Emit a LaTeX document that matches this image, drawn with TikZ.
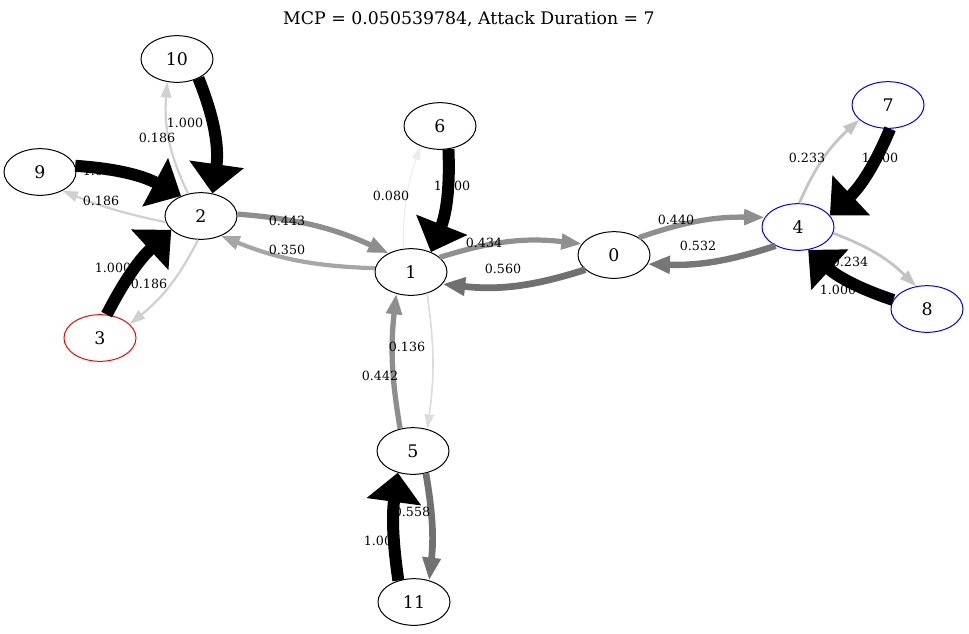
\documentclass[tikz,border=0pt]{standalone}
\usepackage{fontspec}
\setmainfont{DejaVu Serif}
\usetikzlibrary{arrows.meta,shapes}

\begin{document}
\begin{tikzpicture}[x=0.75pt,y=-0.75pt,
	state/.style={ellipse,draw,line width=0.75pt,fill=white,inner sep=0pt,minimum width=54pt,minimum height=35pt,font=\fontsize{13}{15}\selectfont},
	attacker/.style={state,draw=red},
	target/.style={state,draw=blue},
	prob/.style={inner sep=0pt,font=\fontsize{9.5}{10}\selectfont},
	trans/.style={draw=black!#1,line width=#1*0.09pt,-{Triangle[length=9pt 1.6,width=5pt 1.6]}},
	sure/.style={draw=black,line width=9pt,-{Triangle[length=22pt,width=40pt]}}
	] % End Creating Chain Pieces

\useasboundingbox (0,0) rectangle (969,633);
\node [font=\fontsize{13}{15}\selectfont] (title) at (469,19) {MCP = 0.050539784, Attack Duration = 7};

% states
\node [state] at (614,255) (n0) {0};
\node [state] at (411,272) (n1) {1};
\node [state] at (201,216) (n2) {2};
\node [attacker] at (100,338) (n3) {3};
\node [target] at (798,227) (n4) {4};
\node [state] at (413,451) (n5) {5};
\node [state] at (440,126) (n6) {6};
\node [target] at (888,105) (n7) {7};
\node [target] at (927,309) (n8) {8};
\node [state] at (40,172) (n9) {9};
\node [state] at (177,59) (n10) {10};
\node [state] at (414,602) (n11) {11};

% uncertain transitions
\draw[trans=18.6] (n2.120) to[bend left=15] (n10.247);
\draw[trans=18.6] (n2.190) to[bend left=5] (n9.320);
\draw[trans=18.6] (n2.263) to[bend left=12] (n3.25);
\draw[trans=44.3] (n2.3) to[bend left=10] (n1.140);
\draw[trans=35.0] (n1.174) to[bend left=10] (n2.315);
\draw[trans=8.0] (n1.108) to[bend left=10] (n6.226);
\draw[trans=43.4] (n1.27) to[bend left=12] (n0.161);
\draw[trans=56.0] (n0.207) to[bend left=12] (n1.339);
\draw[trans=44.0] (n0.35) to[bend left=10] (n4.164);
\draw[trans=53.2] (n4.220) to[bend left=10] (n0.345);
\draw[trans=23.3] (n4.87) to[bend left=12] (n7.207);
\draw[trans=23.4] (n4.350) to[bend left=12] (n8.116);
\draw[trans=44.2] (n5.120) to[bend left=8] (n1.236);
\draw[trans=13.6] (n1.307) to[bend left=8] (n5.57);
\draw[trans=55.8] (n5.300) to[bend left=8] (n11.55);

% probabilities
\node [prob] at (185,123) (p10) {1.000};
\node [prob] at (157,138) (p2a) {0.186};
\node [prob] at (101,171) (p9) {1.000};
\node [prob] at (101,201) (p2b) {0.186};
\node [prob] at (113,268) (p3) {1.000};
\node [prob] at (149,284) (p2c) {0.186};
\node [prob] at (287,221) (p2d) {0.443};
\node [prob] at (287,250) (p1a) {0.350};
\node [prob] at (452,186) (p6) {1.000};
\node [prob] at (391,196) (p1b) {0.080};
\node [prob] at (484,243) (p1c) {0.434};
\node [prob] at (503,269) (p0a) {0.560};
\node [prob] at (676,220) (p0b) {0.440};
\node [prob] at (698,246) (p4a) {0.532};
\node [prob] at (807,158) (p4b) {0.233};
\node [prob] at (880,158) (p7) {1.000};
\node [prob] at (850,262) (p4c) {0.234};
\node [prob] at (838,290) (p8) {1.000};
\node [prob] at (380,376) (p5a) {0.442};
\node [prob] at (407,347) (p1d) {0.136};
\node [prob] at (382,541) (p11) {1.000};
\node [prob] at (412,512) (p5b) {0.558};

% certain transitions
\draw[sure] (n10.318) to[bend left=15] (n2.63);
\draw[sure] (n9.10) to[bend left=12] (n2.135);
\draw[sure] (n3.74) to[bend left=10] (n2.205);
\draw[sure] (n6.290) to[bend left=12] (n1.45);
\draw[sure] (n7.275) to[bend left=12] (n4.20);
\draw[sure] (n8.165) to[bend left=12] (n4.294);
\draw[sure] (n11.126) to[bend left=8] (n5.235);

\end{tikzpicture}
\end{document}
